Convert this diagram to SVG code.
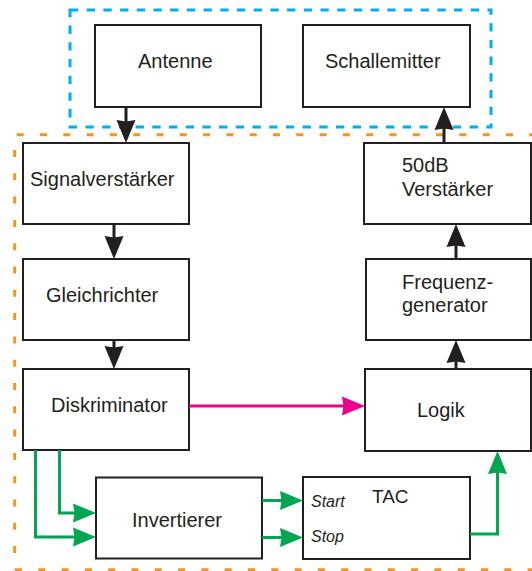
<svg xmlns="http://www.w3.org/2000/svg" width="532" height="571" viewBox="0 0 532 571">
<style>
.box{fill:#fff;stroke:#231f20;stroke-width:2}
.t{font-family:"Liberation Sans",Arial,sans-serif;font-size:20px;fill:#231f20}
.ti{font-family:"Liberation Sans",Arial,sans-serif;font-size:16px;font-style:italic;fill:#231f20}
.k{fill:none;stroke:#231f20;stroke-width:3}
.g{fill:none;stroke:#00a651;stroke-width:3}
.p{fill:none;stroke:#ec008c;stroke-width:3}
.blue{fill:none;stroke:#00aeef;stroke-width:3;stroke-dasharray:8.3 8.4}
.orange{fill:none;stroke:#f7941d;stroke-width:3;stroke-dasharray:7 16.3}
</style>
<defs>
<marker id="ak" markerUnits="userSpaceOnUse" markerWidth="30" markerHeight="30" refX="0" refY="0" orient="auto" overflow="visible"><path d="M8,0 L-15,-9.5 L-13.5,0 L-15,9.5 Z" fill="#231f20"/></marker>
<marker id="ag" markerUnits="userSpaceOnUse" markerWidth="30" markerHeight="30" refX="0" refY="0" orient="auto" overflow="visible"><path d="M8,0 L-15,-9.5 L-13.5,0 L-15,9.5 Z" fill="#00a651"/></marker>
<marker id="ap" markerUnits="userSpaceOnUse" markerWidth="30" markerHeight="30" refX="0" refY="0" orient="auto" overflow="visible"><path d="M8,0 L-15,-9.5 L-13.5,0 L-15,9.5 Z" fill="#ec008c"/></marker>
</defs>
<rect width="532" height="571" fill="#fff"/>
<g id="groups">
<rect class="blue" x="70" y="10" width="421" height="117"/>
<path class="orange" d="M16.7,134.7 H532"/>
<path class="orange" d="M14.7,150 V570"/>
<path class="orange" d="M15,569.8 H532"/>
</g>
<g id="antenne"><rect class="box" x="95" y="25" width="166" height="82"/><text class="t" x="138" y="68">Antenne</text></g>
<g id="schallemitter"><rect class="box" x="303" y="25" width="167" height="82"/><text class="t" x="325" y="68">Schallemitter</text></g>
<g id="signalverstaerker"><rect class="box" x="23" y="143" width="166" height="81"/><text class="t" x="30" y="186">Signalverstärker</text></g>
<g id="gleichrichter"><rect class="box" x="23" y="259" width="166" height="81"/><text class="t" x="46" y="302">Gleichrichter</text></g>
<g id="diskriminator"><rect class="box" x="23" y="369" width="166" height="81"/><text class="t" x="51" y="412">Diskriminator</text></g>
<g id="verstaerker50"><rect class="box" x="364" y="143" width="167" height="81"/><text class="t" x="402" y="172">50dB</text><text class="t" x="402" y="196">Verstärker</text></g>
<g id="frequenzgenerator"><rect class="box" x="366" y="259" width="165" height="81"/><text class="t" x="402" y="289">Frequenz-</text><text class="t" x="402" y="312">generator</text></g>
<g id="logik"><rect class="box" x="365" y="369" width="166" height="82"/><text class="t" x="417" y="417">Logik</text></g>
<g id="invertierer"><rect class="box" x="96" y="477.5" width="166" height="81"/><text class="t" x="132" y="527">Invertierer</text></g>
<g id="tac"><rect class="box" x="303" y="477" width="167" height="82"/><text class="t" x="372" y="503" style="font-size:19px">TAC</text><text class="ti" x="311" y="507">Start</text><text class="ti" x="311" y="542">Stop</text></g>
<g id="connectors">
<path class="k" d="M126,107 V135" marker-end="url(#ak)"/>
<path class="k" d="M114,224 V251" marker-end="url(#ak)"/>
<path class="k" d="M114,340 V361" marker-end="url(#ak)"/>
<path class="p" d="M189,406 H357" marker-end="url(#ap)"/>
<path class="k" d="M456,369 V348" marker-end="url(#ak)"/>
<path class="k" d="M456,259 V232" marker-end="url(#ak)"/>
<path class="k" d="M444,143 V115" marker-end="url(#ak)"/>
<path class="g" d="M35.5,450 V537 H88" marker-end="url(#ag)"/>
<path class="g" d="M59.5,450 V513 H88" marker-end="url(#ag)"/>
<path class="g" d="M262,500.5 H295" marker-end="url(#ag)"/>
<path class="g" d="M262,537.5 H295" marker-end="url(#ag)"/>
<path class="g" d="M470,534 H497.5 V459" marker-end="url(#ag)"/>
</g>
</svg>
